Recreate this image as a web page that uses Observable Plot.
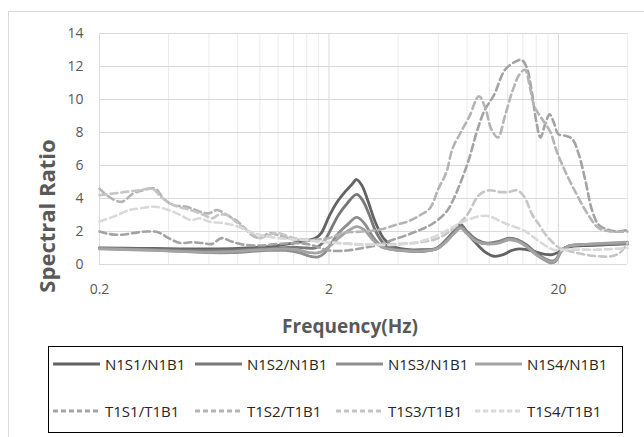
<!DOCTYPE html>
<html>
<head>
<meta charset="utf-8">
<script src="https://cdn.jsdelivr.net/npm/d3@7"></script>
<script src="https://cdn.jsdelivr.net/npm/@observablehq/plot@0.6"></script>
<style>
  body { margin: 0; background: #fff; font-family: "Open Sans", sans-serif; }
  #wrap { position: relative; width: 644px; height: 437px; overflow: hidden; background: #fff; }
  #frame { position: absolute; left: 8px; top: 11px; width: 700px; height: 500px; border: 1px solid #d9d9d9; }
  #chart { position: absolute; left: 0; top: 0; }
  #ylab { position: absolute; left: 46px; top: 216px; transform: translate(-50%, -50%) rotate(-90deg);
          font-size: 22px; font-weight: bold; color: #595959; white-space: nowrap; }
  #xlab { position: absolute; left: 350px; top: 326px; transform: translate(-50%, -50%);
          font-size: 19px; font-weight: bold; color: #595959; white-space: nowrap; }
  #legend { position: absolute; left: 48px; top: 346px; width: 575px; height: 87px; box-sizing: border-box;
            border: 1.5px solid #000; }
  .item { position: absolute; display: flex; align-items: center; font-size: 15px; color: #262626; white-space: nowrap; }
  .item svg { margin-right: 4px; }
</style>
</head>
<body>
<div id="wrap">
  <div id="frame"></div>
  <div id="chart"></div>
  <div id="ylab">Spectral Ratio</div>
  <div id="xlab">Frequency(Hz)</div>
  <div id="legend"></div>
</div>
<script>
// ---- data ----
const seriesNames = ["N1S1/N1B1", "N1S2/N1B1", "N1S3/N1B1", "N1S4/N1B1",
                     "T1S1/T1B1", "T1S2/T1B1", "T1S3/T1B1", "T1S4/T1B1"];
const seriesColors = ["#636363", "#787878", "#8e8e8e", "#a3a3a3",
                      "#a3a3a3", "#b4b4b4", "#c6c6c6", "#d9d9d9"];
const seriesDashed = [false, false, false, false, true, true, true, true];

const yTicks = [0, 2, 4, 6, 8, 10, 12, 14];
const xTickLabels = [0.2, 2, 20];
const xMajorGrid = [0.2, 2, 20];
const xMinorGrid = [0.4, 0.6, 0.8, 1, 1.2, 1.4, 1.6, 1.8, 4, 6, 8, 10, 12, 14, 16, 18, 40];

const n1s1Freq = [0.2, 0.3, 0.45, 0.6, 0.8, 1.0, 1.2, 1.4, 1.6, 1.75, 1.85, 2.0, 2.15, 2.35, 2.5, 2.64, 2.78, 2.95, 3.2, 3.5, 3.9, 4.5, 5.2, 5.9, 6.5, 7.0, 7.5, 8.0, 8.8, 9.6, 10.5, 11.5, 12.5, 13.5, 14.5, 16, 17.5, 18.8, 20, 21.2, 23, 27, 33, 40];
const n1s1Ratio = [1.0, 0.98, 0.95, 0.95, 0.98, 1.05, 1.15, 1.3, 1.45, 1.6, 1.9, 2.9, 3.7, 4.4, 4.8, 5.15, 4.8, 3.9, 2.5, 1.5, 1.05, 0.9, 0.9, 0.95, 1.5, 2.0, 2.45, 1.9, 1.25, 0.75, 0.5, 0.6, 0.85, 0.95, 0.9, 0.75, 0.62, 0.6, 0.75, 1.0, 1.1, 1.15, 1.2, 1.25];

const n1s2Freq = [0.2, 0.3, 0.45, 0.6, 0.8, 1.0, 1.2, 1.4, 1.6, 1.75, 1.9, 2.05, 2.2, 2.4, 2.64, 2.8, 3.0, 3.2, 3.5, 3.9, 4.5, 5.2, 5.9, 6.5, 7.0, 7.5, 8.0, 8.8, 9.8, 11.0, 12.2, 13.3, 14.5, 16, 17.5, 18.6, 19.5, 20.5, 22, 25, 32, 40];
const n1s2Ratio = [0.98, 0.93, 0.88, 0.85, 0.88, 0.95, 1.0, 1.05, 1.0, 1.0, 1.4, 2.2, 3.0, 3.7, 4.25, 3.9, 3.0, 2.0, 1.2, 0.95, 0.85, 0.85, 1.0, 1.5, 2.0, 2.35, 2.0, 1.5, 1.3, 1.4, 1.6, 1.5, 1.2, 0.7, 0.35, 0.2, 0.3, 0.8, 1.1, 1.2, 1.25, 1.3];

const n1s3Freq = [0.2, 0.3, 0.45, 0.6, 0.75, 0.9, 1.1, 1.3, 1.5, 1.65, 1.78, 1.9, 2.05, 2.2, 2.4, 2.64, 2.85, 3.1, 3.4, 3.8, 4.5, 5.2, 5.9, 6.5, 7.0, 7.5, 8.0, 8.8, 9.8, 11.0, 12.2, 13.3, 14.5, 16, 17.5, 18.6, 19.5, 20.5, 22, 25, 32, 40];
const n1s3Ratio = [0.97, 0.9, 0.8, 0.72, 0.72, 0.78, 0.85, 0.85, 0.7, 0.5, 0.45, 0.65, 1.3, 1.9, 2.4, 2.85, 2.5, 1.7, 1.1, 0.9, 0.8, 0.8, 0.95, 1.4, 1.9, 2.25, 1.9, 1.4, 1.25, 1.35, 1.55, 1.45, 1.1, 0.6, 0.25, 0.1, 0.2, 0.75, 1.1, 1.2, 1.25, 1.3];

const n1s4Freq = [0.2, 0.3, 0.45, 0.6, 0.75, 0.9, 1.1, 1.3, 1.5, 1.65, 1.78, 1.9, 2.05, 2.2, 2.4, 2.64, 2.85, 3.1, 3.4, 3.8, 4.5, 5.2, 5.9, 6.5, 7.0, 7.5, 8.0, 8.8, 9.8, 11.0, 12.2, 13.3, 14.5, 16, 17.5, 18.6, 19.5, 20.5, 22, 25, 32, 40];
const n1s4Ratio = [0.95, 0.88, 0.8, 0.75, 0.78, 0.85, 0.92, 0.95, 0.85, 0.72, 0.7, 0.85, 1.2, 1.6, 2.0, 2.3, 2.1, 1.5, 1.05, 0.9, 0.82, 0.82, 0.95, 1.4, 1.85, 2.2, 1.85, 1.4, 1.25, 1.3, 1.5, 1.4, 1.1, 0.6, 0.3, 0.15, 0.25, 0.8, 1.1, 1.2, 1.3, 1.35];

const t1s1Freq = [0.2, 0.22, 0.25, 0.28, 0.32, 0.36, 0.4, 0.45, 0.5, 0.56, 0.62, 0.68, 0.75, 0.85, 1.0, 1.2, 1.4, 1.6, 1.8, 2.0, 2.4, 2.8, 3.3, 3.8, 4.4, 5.0, 5.7, 6.5, 7.0, 7.6, 8.2, 8.8, 9.5, 10.5, 11.7, 13.0, 13.8, 14.5, 15.3, 16.0, 16.7, 17.5, 18.3, 19.1, 20.0, 21.5, 23.0, 24.5, 26.3, 28, 30, 33, 36, 40];
const t1s1Ratio = [2.0, 1.85, 1.8, 1.9, 2.0, 1.95, 1.6, 1.3, 1.35, 1.3, 1.25, 1.6, 1.4, 1.2, 1.15, 1.25, 1.3, 1.25, 1.05, 0.85, 0.85, 1.0, 1.2, 1.5, 1.8, 2.1, 2.5, 3.2, 4.0, 5.2, 6.5, 8.0, 9.3, 10.3, 11.8, 12.3, 12.4, 12.0, 10.5, 8.7, 7.7, 8.5, 9.1, 8.6, 7.9, 7.8, 7.6, 6.7, 5.0, 3.3, 2.4, 2.1, 2.0, 2.1];

const t1s2Freq = [0.2, 0.22, 0.25, 0.28, 0.31, 0.35, 0.38, 0.42, 0.48, 0.55, 0.6, 0.65, 0.72, 0.8, 0.86, 0.92, 1.0, 1.1, 1.25, 1.45, 1.7, 2.0, 2.3, 2.8, 3.3, 3.9, 4.4, 5.0, 5.5, 6.0, 6.5, 6.9, 7.5, 8.2, 9.0, 9.6, 10.2, 10.9, 11.7, 12.6, 13.5, 14.3, 15.0, 15.7, 17.0, 18.5, 19.5, 21, 23.5, 27, 30, 34, 40];
const t1s2Ratio = [4.6, 4.1, 3.8, 4.3, 4.5, 4.6, 4.0, 3.6, 3.5, 3.2, 3.1, 3.3, 3.0, 2.6, 2.2, 1.8, 1.6, 1.9, 1.7, 1.5, 1.5, 1.6, 1.9, 2.0, 2.1, 2.4, 2.6, 3.0, 3.4, 4.6, 5.6, 7.0, 8.0, 9.0, 10.2, 9.5, 8.2, 7.7, 9.0, 10.5, 11.5, 11.8, 10.8, 9.6, 8.8, 8.0, 7.0, 5.9, 4.5, 3.0, 2.2, 2.0, 2.0];

const t1s3Freq = [0.2, 0.23, 0.26, 0.3, 0.34, 0.37, 0.42, 0.5, 0.57, 0.62, 0.66, 0.72, 0.8, 0.9, 1.0, 1.1, 1.2, 1.4, 1.6, 1.8, 2.2, 3.0, 4.0, 5.0, 6.0, 7.0, 8.0, 9.0, 10.0, 11.0, 12.2, 13.2, 14.2, 15.4, 16.5, 17.6, 19.0, 20.2, 22.5, 26, 30, 34, 37, 40];
const t1s3Ratio = [4.2, 4.3, 4.4, 4.5, 4.6, 4.1, 3.6, 3.3, 3.0, 2.8, 3.0, 3.0, 2.5, 2.0, 1.6, 1.8, 1.9, 1.6, 1.5, 1.4, 1.3, 1.2, 1.25, 1.35, 1.6, 2.2, 3.0, 4.2, 4.5, 4.4, 4.4, 4.5, 4.1, 3.0, 2.4, 1.8, 1.3, 1.0, 0.8, 0.6, 0.5, 0.5, 0.7, 1.3];

const t1s4Freq = [0.2, 0.23, 0.27, 0.3, 0.35, 0.4, 0.45, 0.5, 0.55, 0.6, 0.7, 0.8, 0.9, 1.0, 1.2, 1.5, 1.8, 2.2, 3.0, 4.0, 5.0, 6.0, 7.0, 8.0, 9.7, 11.7, 14.4, 16.5, 19.0, 22, 26, 30, 35, 40];
const t1s4Ratio = [2.6, 2.9, 3.3, 3.4, 3.5, 3.3, 3.0, 2.7, 2.8, 2.6, 2.5, 2.3, 2.0, 1.8, 1.6, 1.5, 1.4, 1.3, 1.2, 1.2, 1.4, 1.8, 2.3, 2.7, 2.95, 2.5, 2.0, 1.4, 0.9, 0.9, 0.9, 0.9, 0.95, 1.0];

const seriesFreq = [n1s1Freq, n1s2Freq, n1s3Freq, n1s4Freq, t1s1Freq, t1s2Freq, t1s3Freq, t1s4Freq];
const seriesRatio = [n1s1Ratio, n1s2Ratio, n1s3Ratio, n1s4Ratio, t1s1Ratio, t1s2Ratio, t1s3Ratio, t1s4Ratio];

// ---- chart ----
const lineMarks = seriesNames.map((name, i) => {
  const rows = seriesFreq[i].map((f, j) => ({f, v: seriesRatio[i][j], s: name}));
  return Plot.line(rows, {
    x: "f", y: "v",
    stroke: seriesColors[i],
    strokeWidth: seriesDashed[i] ? 2.6 : 2.8,
    strokeDasharray: seriesDashed[i] ? "7,4" : null,
    curve: "catmull-rom"
  });
});

const chart = Plot.plot({
  width: 644,
  height: 300,
  marginLeft: 99,
  marginRight: 17,
  marginTop: 33,
  marginBottom: 36,
  x: {type: "log", domain: [0.2, 40]},
  y: {domain: [0, 14]},
  style: {fontFamily: "'Open Sans', sans-serif", fontSize: "14px", color: "#595959", background: "transparent"},
  marks: [
    Plot.ruleX(xMinorGrid, {stroke: "#ebebeb", strokeWidth: 1}),
    Plot.ruleX(xMajorGrid, {stroke: "#d9d9d9", strokeWidth: 1}),
    Plot.ruleY(yTicks, {stroke: "#d9d9d9", strokeWidth: 1}),
    Plot.axisY(yTicks, {tickSize: 0, tickPadding: 16, label: null, fill: "#595959"}),
    Plot.axisX(xTickLabels, {tickSize: 0, tickPadding: 20, label: null, fill: "#595959", tickFormat: d => String(d)}),
    ...lineMarks
  ]
});
document.getElementById("chart").appendChild(chart);

// ---- legend ----
const legend = document.getElementById("legend");
const colX = [3, 145, 286, 425];
const rowY = [17, 64];
seriesNames.forEach((name, i) => {
  const item = document.createElement("div");
  item.className = "item";
  item.style.left = colX[i % 4] + "px";
  item.style.top = (rowY[Math.floor(i / 4)] - 10) + "px";
  const dash = seriesDashed[i] ? 'stroke-dasharray="5,3"' : "";
  item.innerHTML = `<svg width="49" height="20"><line x1="1" x2="48" y1="10" y2="10" stroke="${seriesColors[i]}" stroke-width="2.8" ${dash}/></svg><span>${name}</span>`;
  legend.appendChild(item);
});
</script>
</body>
</html>
